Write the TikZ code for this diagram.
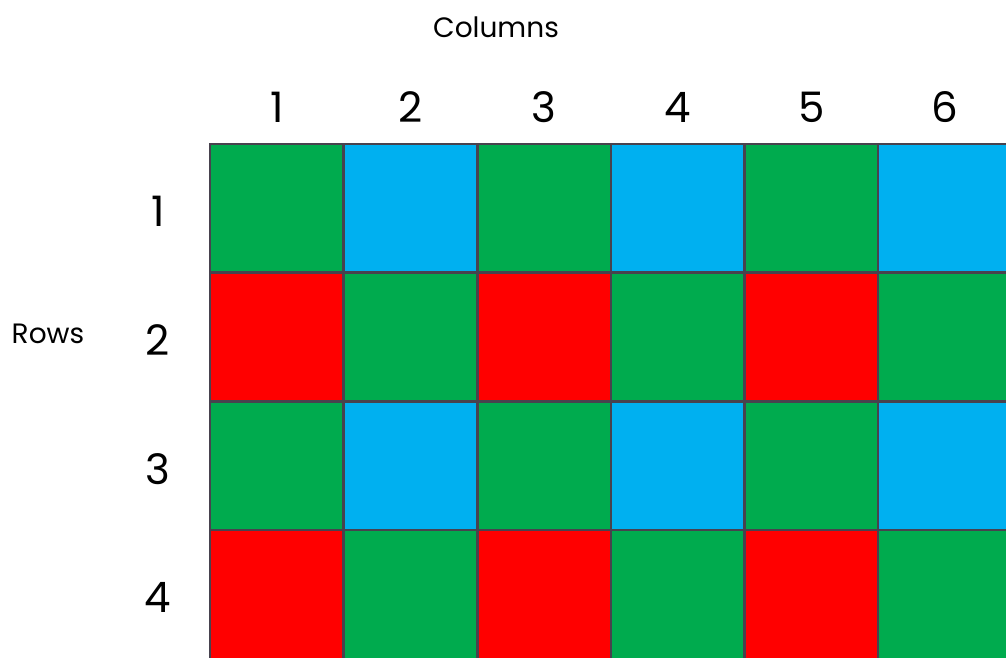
\documentclass[tikz,border=0pt]{standalone}
\usepackage{fontspec}
\setmainfont{Poppins}
\usetikzlibrary{positioning}

\definecolor{cellgreen}{RGB}{0,171,78}
\definecolor{cellblue}{RGB}{0,176,240}
\definecolor{cellred}{RGB}{255,0,0}
\definecolor{gridline}{RGB}{72,66,78}

\begin{document}
\begin{tikzpicture}[
  x=1pt, y=-1pt,
  cell/.style={draw=gridline, line width=2.6pt, minimum width=133.6pt, minimum height=128.7pt, inner sep=0pt, outer sep=0pt},
  idx/.style={font=\fontsize{42}{42}\selectfont},
  axis/.style={font=\fontsize{28}{28}\selectfont}
]
\useasboundingbox (0,0) rectangle (1006,657);

% colour grid, cut at the right and bottom edge
\begin{scope}
\clip (0,0) rectangle (1006,657);
\foreach \r in {1,...,4} {
  \foreach \c in {1,...,6} {
    \ifodd\r
      \ifodd\c \def\cellcol{cellgreen}\else \def\cellcol{cellblue}\fi
    \else
      \ifodd\c \def\cellcol{cellred}\else \def\cellcol{cellgreen}\fi
    \fi
    \node[cell, fill=\cellcol] (cell-\r-\c) at ({210+(\c-0.5)*133.6},{144+(\r-0.5)*128.7}) {};
  }
}
\end{scope}

% indices
\foreach \c in {1,...,6}
  \node[idx] (col-\c) at ({210+(\c-0.5)*133.6},107) {\c};
\foreach \r in {1,...,4}
  \node[idx] (row-\r) at (158,{144+(\r-0.5)*128.7+3}) {\r};

\node[axis] (columns) at (496,27) {Columns};
\node[axis] (rows) at (48,334) {Rows};

\end{tikzpicture}
\end{document}
